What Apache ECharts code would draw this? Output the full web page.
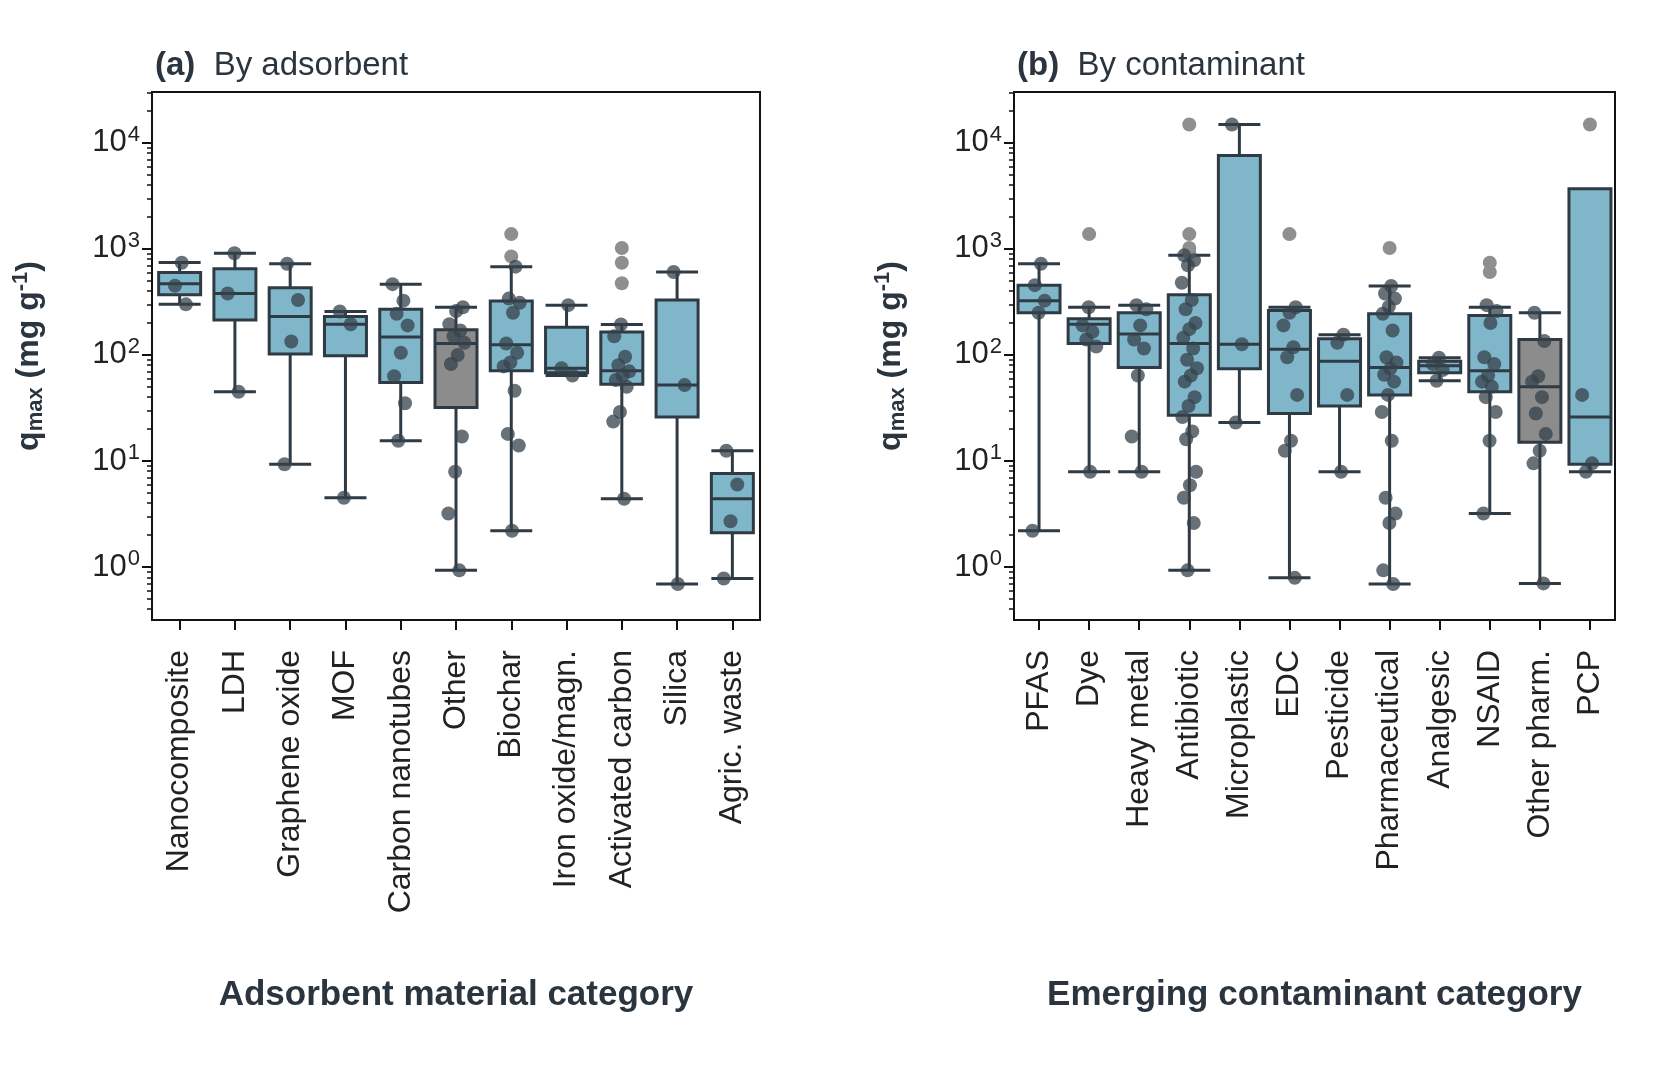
<!DOCTYPE html>
<html><head><meta charset="utf-8">
<script src="https://cdn.jsdelivr.net/npm/echarts@6/dist/echarts.min.js"></script>
<style>html,body{margin:0;background:#fff}#c{width:1654px;height:1068px}</style></head>
<body><div id="c"></div>
<script>
const catsA=["Nanocomposite","LDH","Graphene oxide","MOF","Carbon nanotubes","Other","Biochar","Iron oxide/magn.","Activated carbon","Silica","Agric. waste"];
const boxA=[[300,370,470,600,745],[45,214,380,650,910],[9.3,102,230,430,725],[4.5,98,195,230,257],[15.5,55,148,270,465],[0.93,32,128,173,282],[2.2,71,125,323,680],[64,68,75,182,295],[4.4,53,71,165,194],[0.69,26,52,330,605],[0.78,2.1,4.4,7.6,12.5]];
const flierA=[[],[],[],[],[],[],[1380,850],[],[1020,740,475],[],[]];
const ptsA=[[740,450,300],[910,380,45],[725,330,134,9.3],[257,195,4.5],[465,325,245,190,105,63,35,15.5],[282,260,195,170,150,130,100,82,17,7.9,3.2,0.93],[680,340,310,250,128,105,85,78,46,18,14,2.2],[295,75,64],[194,150,96,80,70,64,58,50,29,23.5,4.4],[605,52,0.69],[12.5,6.0,2.7,0.78]];
const grayA=[5];
const catsB=["PFAS","Dye","Heavy metal","Antibiotic","Microplastic","EDC","Pesticide","Pharmaceutical","Analgesic","NSAID","Other pharm.","PCP"];
const boxB=[[2.2,250,325,455,725],[7.9,128,195,220,282],[7.9,76,158,250,295],[0.93,27,128,370,870],[23,74,126,7600,14900],[0.79,28,113,263,282],[7.9,33,87,142,155],[0.69,42,76,245,447],[57,68,79,87,94],[3.2,45,71,235,282],[0.7,15,50,140,250],[7.9,9.3,26,3700,3700]];
const flierB=[[],[1380],[],[14900,1380,1020,915],[],[1380],[],[1020],[],[740,605],[],[14900]];
const ptsB=[[725,455,325,250,2.2],[282,190,165,140,120,7.9],[295,270,190,140,115,64,17,7.9],[870,780,700,480,330,270,200,175,145,115,90,75,64,56,40,33,26,19,16,7.9,5.9,4.5,2.6,0.93],[14900,126,23],[282,250,190,118,95,42,15.5,12.5,0.79],[155,130,42,7.9],[447,380,340,285,245,170,95,85,74,65,56,42,29,15.5,4.5,3.2,2.6,0.93,0.69],[94,82,72,57],[295,260,200,95,82,64,56,50,40,29,15.5,3.2],[250,135,63,56,40,28,18,12.5,9.5,0.7],[42,9.5,7.9]];
const grayB=[10];

const L=v=>Math.log10(v);
const blue='#80b6c9', dark='#2f3b44', grayFill='#8c8c8c';
const font='Liberation Sans';
function jit(k){return (((k+1)*0.6180339)%1-0.5)*0.32;}

const grids=[{left:152,top:92,width:608,height:528},{left:1014,top:92,width:601,height:528}];
const xAxis=[],yAxis=[],series=[];
const minors=[];for(let d=-1;d<5;d++)for(let m=2;m<=9;m++){const v=d+Math.log10(m);if(v>-0.5&&v<4.48)minors.push(v);}
function panel(gi,cats,box,fl,pts,gray){
  const n=cats.length;
  xAxis.push({type:'category',gridIndex:gi,data:cats,boundaryGap:true,position:'bottom',
    axisLine:{show:false,onZero:false},axisTick:{show:true,alignWithLabel:true,length:10,lineStyle:{color:'#111',width:2}},
    axisLabel:{rotate:90,fontFamily:font,fontSize:32,color:'#222',margin:30,interval:0},
    name:gi==0?'Adsorbent material category':'Emerging contaminant category',nameLocation:'middle',nameGap:358,
    nameTextStyle:{fontFamily:font,fontSize:35,fontWeight:'bold',color:'#2a3540'}});
  xAxis.push({type:'value',gridIndex:gi,min:-0.5,max:n-0.5,show:false});
  const yb={type:'value',gridIndex:gi,min:-0.5,max:4.48,position:'left',offset:0,splitLine:{show:false},
    axisLine:{show:true,onZero:false,lineStyle:{color:'#111',width:2}}};
  yAxis.push(Object.assign({},yb,{
    axisTick:{show:true,customValues:[0,1,2,3,4],length:10,lineStyle:{color:'#111',width:2}},
    axisLabel:{customValues:[0,1,2,3,4],fontFamily:font,fontSize:31,color:'#222',margin:12,
      formatter:v=>'{b|10}{s|'+Math.round(v)+'}',rich:{b:{fontSize:31,fontFamily:font,color:'#222'},s:{fontSize:22,fontFamily:font,color:'#222',verticalAlign:'top',padding:[0,0,16,1]}}},
    name:'{b|q}{sub|max}{b| (mg g}{sup|-1}{b|)}',nameLocation:'middle',nameGap:104,nameRotate:90,
    nameTextStyle:{rich:{b:{fontSize:32,fontWeight:'bold',fontFamily:font,color:'#2a3540'},sub:{fontSize:22,fontWeight:'bold',fontFamily:font,color:'#2a3540',padding:[14,0,0,0]},sup:{fontSize:22,fontWeight:'bold',fontFamily:font,color:'#2a3540',padding:[0,0,16,0]}}}}));
  yAxis.push(Object.assign({},yb,{axisLine:{show:false,onZero:false},axisTick:{show:true,customValues:minors,length:5,lineStyle:{color:'#111',width:1.5}},axisLabel:{show:false}}));
  const xi=gi*2, yi=gi*2;
  series.push({type:'boxplot',xAxisIndex:xi,yAxisIndex:yi,boxWidth:[42,42],z:2,
    data:box.map((b,i)=>({value:b.map(L),itemStyle:{color:gray.includes(i)?grayFill:blue,borderColor:dark,borderWidth:3}})),
    itemStyle:{color:blue,borderColor:dark,borderWidth:3}});
  const fd=[];fl.forEach((a,i)=>a.forEach(v=>fd.push([i,L(v)])));
  series.push({type:'scatter',xAxisIndex:xi+1,yAxisIndex:yi,symbolSize:14,z:3,itemStyle:{color:'#8f8f8f',opacity:1},data:fd});
  const pd=[];pts.forEach((a,i)=>a.forEach((v,k)=>pd.push([i+jit(k+i*3),L(v)])));
  series.push({type:'scatter',xAxisIndex:xi+1,yAxisIndex:yi,symbolSize:14,z:4,itemStyle:{color:'#35424b',opacity:0.75},data:pd});
}
panel(0,catsA,boxA,flierA,ptsA,grayA);
panel(1,catsB,boxB,flierB,ptsB,grayB);
const chart=echarts.init(document.getElementById('c'));
const tstyle={fontFamily:font,fontSize:33,fontWeight:'normal',color:'#2a3540',rich:{b:{fontFamily:font,fontSize:33,fontWeight:'bold',color:'#2a3540'}}};
chart.setOption({animation:false,
  grid:grids.map(g=>Object.assign({show:true,borderColor:'#111',borderWidth:2},g)),
  xAxis,yAxis:yAxis.map((y,i)=>Object.assign(y,{gridIndex:Math.floor(i/2)})),
  series:series,
  title:[{text:'{b|(a)}  By adsorbent',left:150,top:44,textStyle:tstyle},
         {text:'{b|(b)}  By contaminant',left:1012,top:44,textStyle:tstyle}]
});
</script></body></html>
